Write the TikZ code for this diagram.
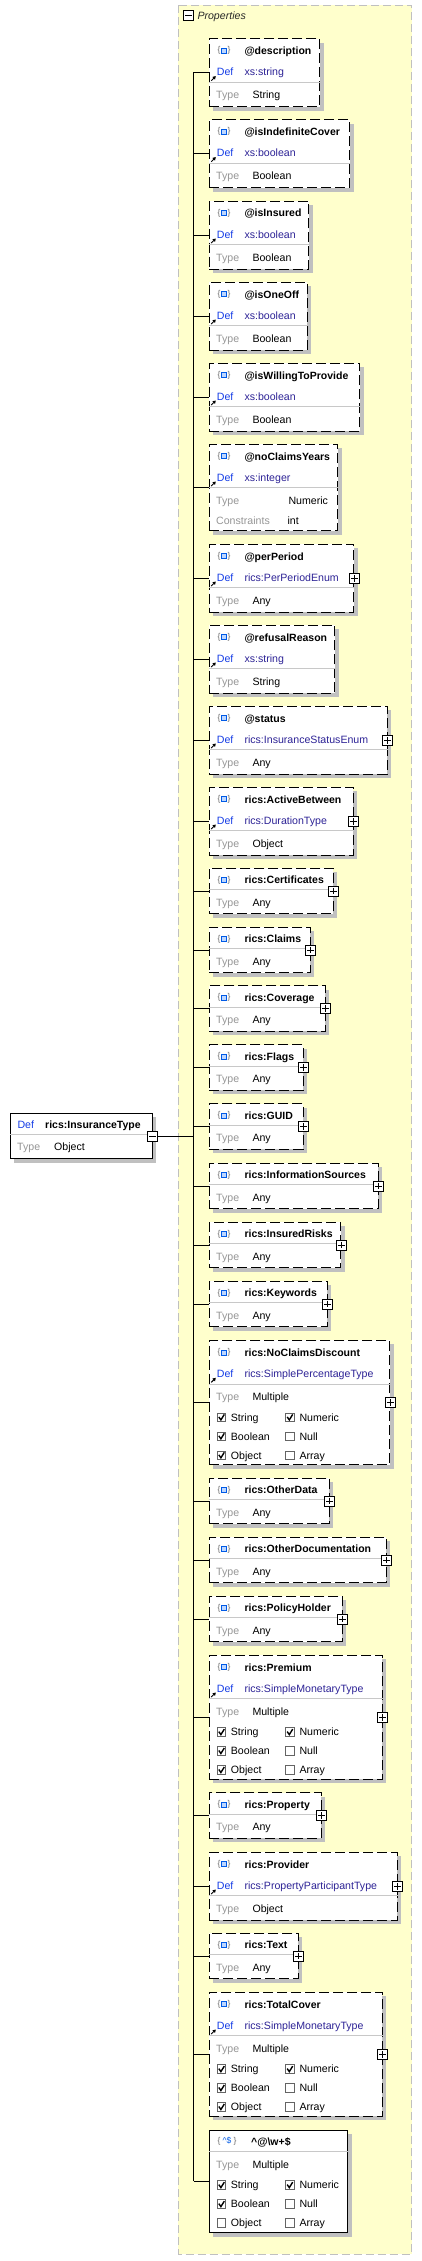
\documentclass[tikz,border=0pt]{standalone}
\usepackage{fontspec}
\setmainfont{Liberation Sans}
\usetikzlibrary{shadows,arrows.meta}
\definecolor{panelyellow}{RGB}{255,255,204}
\definecolor{panelgray}{RGB}{192,192,192}
\definecolor{shadowgray}{RGB}{192,192,192}
\definecolor{sepgray}{RGB}{200,200,200}
\definecolor{defblue}{RGB}{20,60,230}
\definecolor{defvalc}{RGB}{45,35,150}
\definecolor{typegray}{RGB}{150,150,150}
\definecolor{bracegray}{RGB}{110,110,110}
\definecolor{iconblue}{RGB}{0,90,230}
\definecolor{iconfill}{RGB}{190,215,255}
\definecolor{cbgray}{RGB}{100,100,100}
\definecolor{propc}{RGB}{40,40,40}
\tikzset{
  txt/.style={inner sep=0pt, anchor=base west, font=\fontsize{10.6}{12}\selectfont},
  ttlst/.style={txt, font=\fontsize{10.5}{12}\selectfont\bfseries},
  deflbl/.style={txt, text=defblue},
  defvalst/.style={txt, text=defvalc},
  typelbl/.style={txt, text=typegray},
  valst/.style={txt, text=black},
  bracest/.style={inner sep=0pt, anchor=base, text=bracegray, font=\fontsize{8.5}{10}\selectfont},
  boxbase/.style={draw=black, fill=white, line width=0.9pt, inner sep=0pt, anchor=north west,
    drop shadow={shadow xshift=4pt, shadow yshift=-4pt, fill=shadowgray, opacity=1}},
  boxd/.style={boxbase, dash pattern=on 10pt off 4pt},
  boxs/.style={boxbase},
  sepline/.style={draw=sepgray, line width=0.8pt},
  conn/.style={draw=black, line width=0.9pt},
  pmbox/.style={draw=black, fill=white, line width=0.8pt, minimum size=10pt, inner sep=0pt},
  refarrow/.style={line width=0.9pt, -{Triangle[length=3pt,width=3.5pt]}},
  cbst/.style={draw=cbgray, fill=white, line width=0.8pt},
  checkst/.style={draw=black, line width=1.4pt},
  panel/.style={fill=panelyellow, draw=panelgray, line width=0.9pt, dash pattern=on 8pt off 4pt},
}
% name, top, height, right, style
\newcommand\bxnode[5]{\node[#5, minimum width={(#4-209)*1pt}, minimum height={#3*1pt}] (#1) at (209,#2) {};}
\newcommand\bxicon[1]{%
  \node[bracest] at (219,#1+2.2) {\{};
  \node[bracest] at (229,#1+2.2) {\}};
  \draw[draw=iconblue, fill=iconfill, line width=0.8pt] (221.6,#1-2.6) rectangle (226.6,#1+2.4);
}
\newcommand\sepat[2]{\draw[sepline] ([yshift=-#2pt]#1.north west) -- ([yshift=-#2pt]#1.north east);}
\newcommand\defrow[2]{%
  \node[deflbl] at (216.7,#1+37.7) {Def};
  \node[defvalst] at (244.3,#1+37.7) {#2};
  \draw[refarrow] (211.2,#1+42.4) -- (215.8,#1+37.8);
}
\newcommand\plusat[1]{%
  \node[pmbox] (#1p) at (#1.east) {};
  \draw[line width=0.9pt] ([xshift=2pt]#1p.west) -- ([xshift=-2pt]#1p.east)
    ([yshift=-2pt]#1p.north) -- ([yshift=2pt]#1p.south);
}
\newcommand\connto[1]{\draw[conn] (trT |- #1.west) -- (#1.west);}
\newcommand\cbox[3]{%
  \draw[cbst] (#1,#2-4.2) rectangle (#1+8.4,#2+4.2);
  \ifnum#3=1 \draw[checkst] (#1+1.5,#2-0.4) -- (#1+3.6,#2+2.6) -- (#1+7,#2-2.9);\fi
}
% y center, on1, label1, on2, label2
\newcommand\cbrow[5]{%
  \cbox{217.3}{#1}{#2}\node[valst] at (230.7,#1+3.8) {#3};
  \cbox{285.7}{#1}{#4}\node[valst] at (299.3,#1+3.8) {#5};
}
% name, top, right, title, defval, typeval
\newcommand\attrbox[6]{%
  \bxnode{#1}{#2}{68}{#3}{boxd}
  \sepat{#1}{44}
  \bxicon{#2+12.5}
  \node[ttlst] at (244.3,#2+16.3) {#4};
  \defrow{#2}{#5}
  \node[typelbl] at (216,#2+60.3) {Type};
  \node[valst] at (252.3,#2+60.3) {#6};
  \connto{#1}
}
% name, top, right, title
\newcommand\elembox[4]{%
  \bxnode{#1}{#2}{45.6}{#3}{boxd}
  \sepat{#1}{21.6}
  \bxicon{#2+12.3}
  \node[ttlst] at (244.3,#2+16.1) {#4};
  \node[typelbl] at (216,#2+38.4) {Type};
  \node[valst] at (252.3,#2+38.4) {Any};
  \plusat{#1}
  \connto{#1}
}
% name, top, right, title, defval
\newcommand\multibox[5]{%
  \bxnode{#1}{#2}{124.3}{#3}{boxd}
  \sepat{#1}{44}
  \bxicon{#2+12.5}
  \node[ttlst] at (244.3,#2+16.3) {#4};
  \defrow{#2}{#5}
  \node[typelbl] at (216,#2+60.3) {Type};
  \node[valst] at (252.3,#2+60.3) {Multiple};
  \cbrow{#2+77.3}{1}{String}{1}{Numeric}
  \cbrow{#2+96.2}{1}{Boolean}{0}{Null}
  \cbrow{#2+115.2}{1}{Object}{0}{Array}
  \plusat{#1}
  \connto{#1}
}
\begin{document}
\begin{tikzpicture}[x=1pt,y=-1pt]
\useasboundingbox (0,0) rectangle (422,2261);
\fill[white] (0,0) rectangle (422,2261);
% Properties panel
\path[panel] (178.3,5.3) rectangle (411.7,2254);
\node[pmbox] (propm) at (188.7,15.5) {};
\draw[line width=0.9pt] ([xshift=2pt]propm.west) -- ([xshift=-2pt]propm.east);
\node[txt, text=propc, font=\fontsize{10.6}{12}\selectfont\itshape] (proptxt) at (197.3,19.8) {Properties};
% trunk
\coordinate (trT) at (193.5,72.5);
\coordinate (trB) at (193.5,2181);
\draw[conn] (trT) -- (trB);
% children
\attrbox{b1}{38.3}{319.3}{@description}{xs:string}{String}
\attrbox{b2}{119.3}{349.3}{@isIndefiniteCover}{xs:boolean}{Boolean}
\attrbox{b3}{200.7}{308.3}{@isInsured}{xs:boolean}{Boolean}
\attrbox{b4}{281.7}{306.7}{@isOneOff}{xs:boolean}{Boolean}
\attrbox{b5}{362.7}{359.3}{@isWillingToProvide}{xs:boolean}{Boolean}
% noClaimsYears
\bxnode{b6}{443.7}{86.6}{337.3}{boxd}
\sepat{b6}{43.6}
\bxicon{443.7+12.5}
\node[ttlst] at (244.3,443.7+16.3) {@noClaimsYears};
\defrow{443.7}{xs:integer}
\node[typelbl] at (216,443.7+60.3) {Type};
\node[valst] at (288.3,443.7+60.3) {Numeric};
\node[typelbl] at (216,443.7+81.1) {Constraints};
\node[valst] at (287.3,443.7+81.1) {int};
\connto{b6}
\attrbox{b7}{543.7}{353.3}{@perPeriod}{rics:PerPeriodEnum}{Any}
\plusat{b7}
\attrbox{b8}{624.7}{334.3}{@refusalReason}{xs:string}{String}
\attrbox{b9}{705.7}{386.7}{@status}{rics:InsuranceStatusEnum}{Any}
\plusat{b9}
\attrbox{b10}{786.7}{352.7}{rics:ActiveBetween}{rics:DurationType}{Object}
\plusat{b10}
\elembox{b11}{867.7}{332.7}{rics:Certificates}
\elembox{b12}{926.7}{309.7}{rics:Claims}
\elembox{b13}{985.3}{324.7}{rics:Coverage}
\elembox{b14}{1044.3}{302.7}{rics:Flags}
\elembox{b15}{1103.3}{302.7}{rics:GUID}
\elembox{b16}{1162.7}{377.7}{rics:InformationSources}
\elembox{b17}{1221.7}{340.3}{rics:InsuredRisks}
\elembox{b18}{1280.7}{326.7}{rics:Keywords}
\multibox{b19}{1340}{389.3}{rics:NoClaimsDiscount}{rics:SimplePercentageType}
\elembox{b20}{1477.7}{328.7}{rics:OtherData}
\elembox{b21}{1536.7}{385.7}{rics:OtherDocumentation}
\elembox{b22}{1595.7}{341.7}{rics:PolicyHolder}
\multibox{b23}{1654.7}{381.7}{rics:Premium}{rics:SimpleMonetaryType}
\elembox{b24}{1792.3}{320.7}{rics:Property}
\attrbox{b25}{1851.7}{396.7}{rics:Provider}{rics:PropertyParticipantType}{Object}
\plusat{b25}
\elembox{b26}{1932.7}{297.7}{rics:Text}
\multibox{b27}{1991.7}{381.7}{rics:TotalCover}{rics:SimpleMonetaryType}
% pattern property
\bxnode{b28}{2129.7}{102.6}{347.3}{boxs}
\sepat{b28}{21.3}
\node[bracest] (b28l) at (219,2129.7+14.2) {\{};
\node[inner sep=0pt, anchor=base, text=iconblue, font=\fontsize{8.5}{10}\selectfont] (b28c) at (227,2129.7+14.2) {\textasciicircum\$};
\node[bracest] (b28r) at (235,2129.7+14.2) {\}};
\node[ttlst] at (251,2129.7+16.1) {\textasciicircum @\textbackslash w+\$};
\node[typelbl] at (216,2129.7+38.4) {Type};
\node[valst] at (252.3,2129.7+38.4) {Multiple};
\cbrow{2129.7+55.3}{1}{String}{1}{Numeric}
\cbrow{2129.7+74.3}{1}{Boolean}{0}{Null}
\cbrow{2129.7+93.3}{0}{Object}{0}{Array}
\connto{b28}
% main node
\node[boxs, minimum width=141.7pt, minimum height=45.7pt] (mainT) at (10,1112.7) {};
\draw[sepline] ([yshift=-21.6pt]mainT.north west) -- ([yshift=-21.6pt]mainT.north east);
\node[deflbl] at (17.3,1112.7+15.6) {Def};
\node[ttlst] at (45,1112.7+15.6) {rics:InsuranceType};
\node[typelbl] at (17,1112.7+38.1) {Type};
\node[valst] at (54,1112.7+38.1) {Object};
\node[pmbox] (mainm) at (mainT.east) {};
\draw[line width=0.9pt] ([xshift=2pt]mainm.west) -- ([xshift=-2pt]mainm.east);
\draw[conn] (mainm.east) -- (trT |- mainm.east);
\end{tikzpicture}
\end{document}
